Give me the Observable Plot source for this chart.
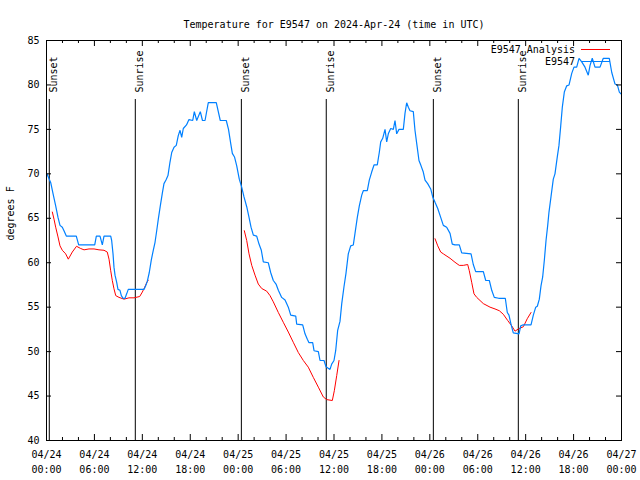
<!DOCTYPE html>
<html><head><meta charset="utf-8">
<script src="https://cdn.jsdelivr.net/npm/d3@7"></script>
<script src="https://cdn.jsdelivr.net/npm/@observablehq/plot@0.6"></script>
<style>body{margin:0;background:#fff} svg{display:block}</style>
</head><body><div id="chart"></div>
<script>
const titleText = "Temperature for E9547 on 2024-Apr-24 (time in UTC)";
const yLabelText = "degrees F";
const seriesNames = ["E9547 Analysis", "E9547"];
const seriesColors = ["#ff0000", "#0080ff"];

// hours since 2024-04-24 00:00 UTC
const obsHours = [0.05,0.53,0.81,1.15,1.44,1.69,1.98,2.19,2.48,3.73,4.03,6.04,6.24,6.70,6.99,7.20,8.04,8.16,8.33,8.45,8.58,8.79,8.95,9.20,9.37,9.58,9.83,10.04,10.24,
12.21,12.42,12.62,12.87,13.12,13.37,13.59,13.80,14.00,14.25,14.50,14.71,14.96,15.21,15.46,15.68,15.97,16.25,16.50,16.72,16.93,17.13,17.53,17.84,18.31,18.51,18.81,19.26,19.53,19.85,20.26,21.26,21.76,22.51,22.79,23.07,23.27,23.54,23.82,24.14,24.44,24.73,25.07,25.36,25.61,25.90,26.32,26.61,26.90,27.15,27.77,28.07,28.40,28.74,29.03,29.45,29.87,30.28,30.58,31.21,31.33,32.08,32.37,32.66,32.87,33.33,33.50,34.04,34.25,34.75,35.00,35.50,35.71,36.00,36.21,36.46,36.75,
36.97,37.25,37.50,37.79,38.09,38.42,38.63,38.92,39.17,39.47,39.67,40.17,40.42,40.72,41.01,41.42,41.67,41.85,42.10,42.39,42.60,42.80,43.10,43.43,43.64,43.85,44.14,44.68,44.89,45.10,45.31,45.52,45.93,46.14,46.36,46.64,46.90,47.18,47.40,47.73,48.11,48.36,48.65,48.99,49.36,49.69,50.11,50.53,50.81,51.15,51.69,51.99,53.16,53.44,53.74,54.70,55.00,55.45,55.75,56.07,56.62,57.45,57.70,57.91,58.16,58.45,59.17,59.38,59.63,60.67,60.96,61.26,61.46,61.71,61.92,62.13,62.34,62.55,62.76,62.92,63.17,63.46,63.67,63.96,64.17,64.39,64.59,64.84,65.14,65.43,65.77,66.05,66.39,66.68,67.02,67.43,67.84,68.06,68.34,68.68,69.31,69.72,70.47,70.78,71.19,71.48,71.73,71.94];
const obsTemps = [70.0,69.0,67.8,66.4,65.1,64.2,64.0,63.6,63.0,63.0,62.0,62.0,63.0,63.0,62.0,63.0,63.0,62.5,61.0,59.5,58.6,57.8,57.0,56.9,56.3,56.0,56.0,56.5,57.0,
57.0,57.4,57.9,58.9,60.3,61.4,62.3,63.6,64.9,66.4,67.8,68.9,69.3,69.8,71.3,72.4,73.0,73.2,74.3,74.9,74.1,75.1,75.5,76.1,76.0,77.0,76.0,77.0,76.0,76.0,78.0,78.0,76.0,76.0,75.0,73.4,72.3,71.9,70.9,69.4,68.5,67.4,66.3,65.1,64.0,63.1,63.0,62.1,61.4,60.1,60.0,58.9,58.0,57.6,56.9,56.1,55.8,55.0,54.1,54.0,53.1,53.0,52.0,51.4,51.0,51.0,50.1,50.0,49.0,49.0,48.3,48.0,48.6,49.0,50.1,52.4,53.4,
55.4,57.3,58.8,61.0,61.9,62.0,63.3,65.1,66.4,67.6,68.1,68.1,69.3,70.2,71.0,71.0,72.4,73.6,74.0,75.0,73.6,74.5,75.1,75.0,76.0,74.5,75.0,75.0,76.8,78.0,77.5,77.1,77.0,74.9,73.4,71.5,70.9,70.2,69.3,68.9,68.3,67.4,66.8,66.1,65.1,64.2,64.0,63.3,62.1,62.0,62.0,61.1,61.0,59.8,59.0,59.0,58.0,58.0,56.9,56.1,56.0,56.0,54.4,54.1,53.1,52.1,52.0,52.9,53.0,53.0,54.1,55.0,55.1,55.9,57.4,58.4,60.3,62.5,64.2,65.7,67.4,69.4,70.0,71.9,73.2,75.4,77.5,79.2,79.9,80.0,81.3,82.0,82.0,83.0,82.6,82.0,81.1,82.2,83.0,82.0,82.0,83.0,83.0,81.4,80.1,80.0,79.2,79.0];

const anaHours1 = [0.73,0.94,1.15,1.44,1.69,1.98,2.40,2.73,3.23,3.76,4.28,4.70,5.32,5.95,6.57,7.20,7.61,7.83,8.04,8.24,8.45,8.67,9.08,9.70,10.33,10.96,11.67,12.00,12.30,12.62,12.75];
const anaTemps1 = [65.7,64.9,64.0,62.9,61.9,61.4,61.0,60.4,61.2,61.85,61.6,61.45,61.55,61.55,61.45,61.4,61.2,60.4,59.1,58.0,57.07,56.3,56.1,55.9,56.05,56.05,56.2,56.7,57.25,57.9,58.0];
const anaHours2 = [24.77,25.07,25.36,25.70,26.11,26.52,26.95,27.57,27.99,28.40,29.03,29.65,30.28,30.90,31.53,32.16,32.78,33.41,34.04,34.66,35.09,35.79,36.04,36.34,36.63];
const anaTemps2 = [63.6,62.5,61.0,59.7,58.6,57.6,57.1,56.8,56.3,55.6,54.4,53.3,52.2,51.05,49.9,49.0,48.25,47.1,46.0,44.9,44.6,44.5,45.6,47.3,49.0];
const anaHours3 = [48.65,48.99,49.36,49.69,50.53,51.15,51.69,52.19,52.74,52.94,53.24,53.53,53.87,54.70,55.54,56.16,56.70,57.20,57.75,58.25,58.67,59.08,59.71,60.20,60.67];
const anaTemps3 = [62.7,61.9,61.2,61.0,60.5,60.05,59.7,59.7,59.8,59.1,57.8,56.5,56.1,55.4,55.0,54.8,54.6,54.2,53.5,52.9,52.3,52.55,52.8,53.7,54.4];

const sunHours = [0.35, 11.12, 24.40, 35.03, 48.44, 59.08];
const sunLabels = ["Sunset", "Sunrise", "Sunset", "Sunrise", "Sunset", "Sunrise"];

const xMajorHours = [0,6,12,18,24,30,36,42,48,54,60,66,72];
const xTickLabels = ["04/24\n00:00","04/24\n06:00","04/24\n12:00","04/24\n18:00","04/25\n00:00","04/25\n06:00","04/25\n12:00","04/25\n18:00","04/26\n00:00","04/26\n06:00","04/26\n12:00","04/26\n18:00","04/27\n00:00"];
const xMinorHours = [2,4,8,10,14,16,20,22,26,28,32,34,38,40,44,46,50,52,56,58,62,64,68,70];
const yTicks = [40,45,50,55,60,65,70,75,80,85];

const obs = obsHours.map((h, i) => ({h, t: obsTemps[i]}));
const ana = [
  ...anaHours1.map((h, i) => ({h, t: anaTemps1[i], run: 1})),
  ...anaHours2.map((h, i) => ({h, t: anaTemps2[i], run: 2})),
  ...anaHours3.map((h, i) => ({h, t: anaTemps3[i], run: 3}))
];
const sun = sunHours.map((h, i) => ({h, label: sunLabels[i]}));
const xMajor = xMajorHours.map((h, i) => ({h, label: xTickLabels[i]}));

const FONT = "DejaVu Sans Mono";
const W = 640, H = 480, ML = 46, MR = 19, MT = 40, MB = 40;
const PW = W - ML - MR, PH = H - MT - MB;

function legend(index, scales, values, dims) {
  const g = d3.create("svg:g").attr("font-family", FONT).attr("font-size", 10);
  const xr = dims.width - dims.marginRight;
  const order = [0, 1];
  order.forEach((si, row) => {
    const y = dims.marginTop + 9.5 + row * 12;
    g.append("text").attr("x", xr - 46).attr("y", y).attr("dy", "0.35em")
      .attr("text-anchor", "end").attr("fill", "black").text(seriesNames[si]);
    g.append("line").attr("x1", xr - 40).attr("x2", xr - 11).attr("y1", y).attr("y2", y)
      .attr("stroke", seriesColors[si]).attr("stroke-width", 1);
  });
  return g.node();
}

const chart = Plot.plot({
  width: W, height: H,
  marginLeft: ML, marginRight: MR, marginTop: MT, marginBottom: MB,
  style: {fontFamily: FONT, fontSize: "10px", background: "white", color: "black"},
  x: {type: "linear", domain: [0, 72], axis: null},
  y: {domain: [40, 85], axis: null},
  marks: [
    Plot.ruleX(sun, {x: "h", insetTop: 59, stroke: "black", strokeWidth: 1}),
    Plot.text(sun, {x: "h", text: "label", frameAnchor: "top", dy: 52, dx: 1, rotate: -90, textAnchor: "start", fill: "black"}),
    Plot.line(ana, {x: "h", y: "t", z: "run", stroke: seriesColors[0], strokeWidth: 1, strokeLinejoin: "miter"}),
    Plot.line(obs, {x: "h", y: "t", stroke: seriesColors[1], strokeWidth: 1.2, strokeLinejoin: "miter"}),
    // x ticks bottom & top
    Plot.tickX(xMajorHours, {x: d => d, insetTop: PH - 6, stroke: "black"}),
    Plot.tickX(xMajorHours, {x: d => d, insetBottom: PH - 6, stroke: "black"}),
    Plot.tickX(xMinorHours, {x: d => d, insetTop: PH - 3, stroke: "black"}),
    Plot.tickX(xMinorHours, {x: d => d, insetBottom: PH - 3, stroke: "black"}),
    // y ticks left & right
    Plot.tickY(yTicks, {y: d => d, insetRight: PW - 5, stroke: "black"}),
    Plot.tickY(yTicks, {y: d => d, insetLeft: PW - 5, stroke: "black"}),
    Plot.frame({stroke: "black", strokeWidth: 1}),
    // tick labels
    Plot.text(xMajor, {x: "h", text: "label", frameAnchor: "bottom", dy: 7, lineAnchor: "top", lineHeight: 1.5, fill: "black"}),
    Plot.text(yTicks, {y: d => d, text: d => String(d), frameAnchor: "left", dx: -7, textAnchor: "end", fill: "black"}),
    // titles
    Plot.text([titleText], {frameAnchor: "top", dy: -20, fill: "black"}),
    Plot.text([yLabelText], {frameAnchor: "left", dx: -36, rotate: -90, fill: "black"}),
    legend
  ]
});
document.getElementById("chart").appendChild(chart);
</script>
</body></html>
